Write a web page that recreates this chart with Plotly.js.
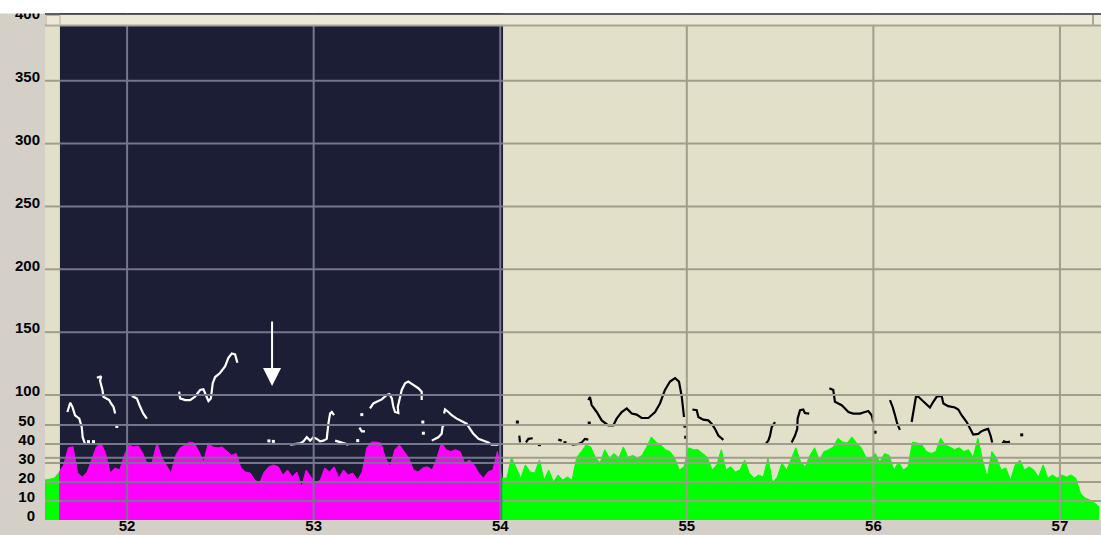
<!DOCTYPE html>
<html>
<head>
<meta charset="utf-8">
<script src="https://cdn.plot.ly/plotly-3.0.1.min.js"></script>
<style>
  html, body { margin: 0; padding: 0; background: #d4d0c8; overflow: hidden; }
  #chart { width: 1101px; height: 535px; }
</style>
</head>
<body>
<div id="chart"></div>
<script>
// ---- time axis ----
const timeRange = [51.56, 57.22];
const timeTicks = [52, 53, 54, 55, 56, 57];
const timeTickText = ['52', '53', '54', '55', '56', '57'];

// selected (highlighted) stretch of the recording, seconds
const selectionStart = 51.64;
const selectionEnd = 54.015;

// ---- intensity envelope (dB), one frame every 25 ms ----
const frameStart = 51.56;
const frameStep = 0.025;
const intensityDb = [
  21, 21.5, 22, 25, 29, 38, 38.6, 24.7, 22.6, 25,
  31.6, 38.4, 40.5, 35, 24.7, 27.4, 26.3, 34, 39.5, 38.4,
  39, 35, 29, 30.5, 40.5, 33, 29, 24.7, 34, 38,
  39.5, 41, 40.5, 36, 30.5, 40.5, 38.4, 38, 38.4, 36,
  34, 35, 27.4, 25.3, 24.7, 21, 19.5, 25.3, 28, 29,
  28, 23.7, 26.3, 22.6, 25.3, 17.4, 26.3, 22.6, 19.5, 21,
  27.4, 25.3, 28, 22, 26.3, 23.7, 24.7, 21, 25.3, 38,
  41, 41, 40.5, 32.6, 28, 37, 39.5, 36, 32.6, 26.3,
  25.3, 27.4, 28, 26.3, 32.6, 40.5, 37, 36, 37, 36,
  30, 31.6, 29, 24.7, 22, 25.3, 26.3, 36, 22, 22,
  33, 27.4, 22, 29, 25.3, 24.7, 31.6, 21, 26.3, 20,
  23.7, 21, 22.6, 21, 33, 36, 39.5, 38.4, 33, 30,
  37, 32.6, 35, 32.6, 38.4, 33, 34, 32.6, 34, 38.4,
  43.7, 41, 39.5, 37, 36, 32.6, 26.3, 28, 38, 37,
  37, 35, 33, 26.3, 29, 37, 26.3, 28, 25.3, 26.3,
  31.6, 24.7, 22, 23.7, 22.6, 32.6, 19.5, 22.6, 30, 26.3,
  32.6, 38, 30.5, 28, 34, 38, 31.6, 36, 37, 38.4,
  43, 41, 40.5, 43.7, 40.5, 38, 33, 32.6, 35, 30.5,
  35, 34, 26.3, 30.5, 26.3, 28, 41, 40.5, 39.5, 36,
  35, 36, 43, 39.5, 38.4, 37, 38, 36, 37, 33,
  43, 31.6, 22.6, 36, 32.6, 26.3, 27.4, 21, 29, 31.6,
  26.3, 28, 26.3, 22.6, 29, 22, 23.7, 22, 23.7, 22.6,
  23.7, 22, 14, 11.6, 10.5, 9, 7
];

// ---- pitch contour (Hz); null separates voiced stretches ----
const pitchTimeSel = [
  51.680, 51.695, 51.707, 51.721, 51.744, 51.757, 51.762, 51.775, null,
  51.838, 51.861, 51.855, 51.868, 51.873, 51.891, 51.904, 51.914, 51.927, 51.936, null,
  52.025, 52.052, 52.070, 52.087, 52.106, null,
  52.279, 52.284, 52.311, 52.338, 52.364, 52.391, 52.409, 52.422, 52.436, 52.449,
  52.459, 52.472, 52.498, 52.525, 52.543, 52.561, 52.579, 52.591, null,
  52.874, 52.900, 52.927, 52.945, 52.963, 52.981, 52.998, 53.017, 53.034, 53.052,
  53.070, 53.079, 53.088, 53.097, 53.109, null,
  53.115, 53.151, 53.186, null,
  53.245, 53.258, 53.275, null,
  53.302, 53.320, 53.338, 53.365, 53.392, 53.406, 53.419, 53.427, 53.436, 53.454,
  53.451, 53.463, 53.472, 53.490, 53.507, 53.534, 53.561, 53.579, 53.579, null,
  53.633, 53.651, 53.668, 53.686, 53.692, 53.695, null,
  53.699, 53.704, 53.722, 53.740, 53.767, 53.794, 53.820, 53.838, 53.856, 53.883,
  53.909, 53.936, 53.954, 53.990
];
const pitchHzSel = [
  86.5, 93.8, 90.6, 83.9, 81.2, 74.4, 66.4, 61.0, null,
  113.7, 114.8, 111.3, 104, 98.6, 97.3, 96, 93.3, 90.6, 85.2, null,
  99.2, 97.3, 90.6, 85.2, 81.2, null,
  102.7, 97.3, 96, 96, 98.6, 104, 104.6, 100, 95.2, 97.3,
  109.4, 114.3, 117.5, 122.8, 129.6, 133, 132.3, 125.6, null,
  60.5, 61, 61.5, 63.1, 66.4, 63.7, 66.4, 65.1, 63.1, 63.7,
  65.1, 77.2, 85.2, 86.5, 83.9, null,
  63.7, 62.3, 60.5, null,
  74, 71, 71, null,
  89.3, 93.3, 94.6, 96.5, 100, 100.8, 97.3, 90.6, 86.5, 85.7,
  90.6, 98.6, 104, 109.4, 110.7, 108, 105.4, 102.7, 96, null,
  63.7, 65.1, 66.4, 69.1, 75.8, 74.4, null,
  85.2, 88.5, 86.5, 83.9, 81.2, 79.3, 77.2, 73.1, 69.1, 65.1,
  63.7, 62.3, 60.5, 60.5
];
const pitchTimeRest = [
  54.102, 54.106, null,
  54.138, 54.151, 54.174, null,
  54.311, 54.330, null,
  54.383, 54.419, 54.437, 54.454, 54.472, null,
  54.472, 54.481, 54.490, 54.517, 54.544, 54.579, 54.606, 54.624, 54.651, 54.678,
  54.705, 54.731, 54.758, 54.794, 54.830, 54.856, 54.883, 54.910, 54.937, 54.958,
  54.973, 54.985, null,
  55.030, 55.053, 55.062, 55.088, 55.115, 55.133, 55.151, 55.169, 55.196, null,
  55.419, 55.437, 55.446, 55.455, 55.473, null,
  55.562, 55.580, 55.592, 55.594, 55.607, 55.624, 55.633, 55.656, null,
  55.764, 55.785, 55.794, 55.812, 55.830, 55.848, 55.866, 55.892, 55.928, 55.955,
  55.973, 55.991, 55.999, null,
  56.089, 56.103, 56.116, 56.128, 56.142, null,
  56.205, 56.218, 56.228, 56.241, 56.259, 56.282, 56.303, 56.321, 56.339, 56.366,
  56.375, 56.401, 56.437, 56.455, 56.473, 56.500, 56.518, 56.535, 56.562, 56.580,
  56.598, 56.615, 56.628, 56.637, null,
  56.688, 56.700, 56.715, 56.732
];
const pitchHzRest = [
  67.7, 62.3, null,
  62.3, 65.1, 65.6, null,
  64.5, 63.7, null,
  60.5, 61, 62.3, 65.1, 64.5, null,
  96, 98.4, 92, 86.5, 79.8, 75.8, 75.8, 81.2, 86.5, 89.3,
  85.2, 84.4, 81.7, 81.7, 86.5, 93.3, 104, 110.7, 113.5, 110.7,
  98.6, 82.5, null,
  88.5, 87.9, 82.5, 80.4, 79.8, 77.2, 73.1, 67.7, 64.3, null,
  60.5, 63.7, 67.7, 74.4, 78.5, null,
  62.3, 67.7, 73.1, 81.2, 87.9, 88.5, 85.7, 85.2, null,
  105.4, 104, 94.6, 93.3, 91.9, 89.3, 86.5, 85.2, 85.2, 86.5,
  87.3, 83.9, 78.5, null,
  96, 90.6, 83.9, 77.2, 72.3, null,
  78.5, 90.6, 98.6, 98.6, 96, 93.3, 90.1, 94.6, 98.6, 99.2,
  93.3, 91.1, 90.1, 88.5, 83.9, 78.5, 73.1, 68.5, 69.1, 71.2,
  72.3, 73.1, 67.7, 62.3, null,
  60.5, 63.1, 62.3, 62.9
];
// isolated single pitch frames
const dotTimeSel = [51.793, 51.820, 51.945, 52.760, 52.784, 53.236, 53.258, 53.585, 53.588];
const dotHzSel   = [62.9, 62.9, 75, 63.5, 63.1, 63.7, 84.4, 78.5, 69.6];
const dotTimeRest = [54.092, 54.210, 54.347, 54.477, 54.990, 54.994, 56.009, 56.795];
const dotHzRest   = [78.5, 60.5, 62.1, 77.7, 75.2, 66.4, 70.4, 68.3];

// ---- scale labels ----
const pitchTicks = [50, 100, 150, 200, 250, 300, 350, 400];
const pitchTickText = ['', '100', '150', '200', '250', '300', '350', '400'];
const intensityTicks = [0, 10, 20, 30, 40, 50];
const intensityTickText = ['0', '10', '20', '30', '40', '50'];

// marked instant
const markTime = 52.777;
const markHz = 107.2;

// ---------------------------------------------------------------
const frameTimes = intensityDb.map((_, i) => frameStart + i * frameStep);
function framesWhere(test) {
  const t = [], v = [];
  frameTimes.forEach((ft, i) => { if (test(ft)) { t.push(ft); v.push(intensityDb[i]); } });
  return { t, v };
}
const eps = frameStep / 2;
const before = framesWhere(ft => ft < selectionStart + 0.005);
const inside = framesWhere(ft => ft >= selectionStart - eps && ft <= selectionEnd);
const after = framesWhere(ft => ft >= selectionEnd - eps);

const GREEN = '#00ff00', MAGENTA = '#ff00ff';
function envelope(part, color) {
  return {
    x: part.t, y: part.v, yaxis: 'y2', type: 'scatter', mode: 'lines',
    fill: 'tozeroy', fillcolor: color, line: { color: color, width: 1 },
    hoverinfo: 'skip', showlegend: false
  };
}
const traces = [
  envelope(before, GREEN),
  envelope(inside, MAGENTA),
  envelope(after, GREEN),
  { x: pitchTimeSel, y: pitchHzSel, type: 'scatter', mode: 'lines', connectgaps: false,
    line: { color: '#ffffff', width: 2.2 }, showlegend: false, hoverinfo: 'skip' },
  { x: pitchTimeRest, y: pitchHzRest, type: 'scatter', mode: 'lines', connectgaps: false,
    line: { color: '#000000', width: 2.2 }, showlegend: false, hoverinfo: 'skip' },
  { x: dotTimeSel, y: dotHzSel, type: 'scatter', mode: 'markers',
    marker: { color: '#ffffff', size: 3, symbol: 'square' }, showlegend: false, hoverinfo: 'skip' },
  { x: dotTimeRest, y: dotHzRest, type: 'scatter', mode: 'markers',
    marker: { color: '#000000', size: 3, symbol: 'square' }, showlegend: false, hoverinfo: 'skip' }
];

// grid drawn over the envelopes, tinted per region
const GRID_DARK = '#74768e', GRID_LIGHT = '#a09d8a';
const shapes = [];
// selection background
shapes.push({ type: 'rect', xref: 'x', yref: 'paper', x0: selectionStart, x1: selectionEnd,
  y0: 0, y1: 1, fillcolor: '#1c1e35', line: { width: 0 }, layer: 'below' });

function hGrid(val, yref) {
  const spans = [[timeRange[0], selectionStart, GRID_LIGHT],
                 [selectionStart, selectionEnd, GRID_DARK],
                 [selectionEnd, timeRange[1], GRID_LIGHT]];
  spans.forEach(([a, b, c]) => shapes.push({
    type: 'line', xref: 'x', yref: yref, x0: a, x1: b, y0: val, y1: val,
    line: { color: c, width: 2 }, layer: 'above' }));
}
pitchTicks.forEach(v => hGrid(v, 'y'));
intensityTicks.filter(v => v > 0).forEach(v => hGrid(v, 'y2'));
timeTicks.forEach(v => shapes.push({
  type: 'line', xref: 'x', yref: 'paper', x0: v, x1: v, y0: 0, y1: 1,
  line: { color: (v > selectionStart && v < selectionEnd) ? GRID_DARK : GRID_LIGHT, width: 2 },
  layer: 'above' }));

// window chrome along the top edge (plot spans y 10..520 px, x 45..1101 px)
const W = 1101, H = 535, L = 45, T = 10, B = 15;
const px = x => (x - L) / (W - L);
const py = y => (H - B - y) / (H - B - T);
shapes.push({ type: 'rect', xref: 'paper', yref: 'paper', x0: px(0), x1: px(W), y0: py(13.5), y1: py(0),
  fillcolor: '#ffffff', line: { width: 0 }, layer: 'above' });
shapes.push({ type: 'rect', xref: 'paper', yref: 'paper', x0: px(L), x1: px(W), y0: py(25.5), y1: py(14),
  fillcolor: '#ece9d8', line: { width: 0 }, layer: 'above' });
shapes.push({ type: 'line', xref: 'paper', yref: 'paper', x0: px(L), x1: px(W), y0: py(14), y1: py(14),
  line: { color: '#303030', width: 1.5 }, layer: 'above' });
shapes.push({ type: 'line', xref: 'paper', yref: 'paper', x0: px(L), x1: px(W), y0: py(25.5), y1: py(25.5),
  line: { color: '#a6a392', width: 2 }, layer: 'above' });
shapes.push({ type: 'rect', xref: 'paper', yref: 'paper', x0: px(L + 1), x1: px(60), y0: py(25), y1: py(15.5),
  fillcolor: '#ece9d8', line: { color: '#b5b2a2', width: 1 }, layer: 'above' });
shapes.push({ type: 'line', xref: 'paper', yref: 'paper', x0: px(1093), x1: px(1093), y0: py(25), y1: py(15),
  line: { color: '#aaa796', width: 2 }, layer: 'above' });

const labelFont = { family: 'Liberation Sans, Arial, sans-serif', size: 15, color: '#000000', weight: 'bold' };

const layout = {
  width: W, height: H,
  margin: { l: L, r: 0, t: T, b: B, pad: 0 },
  paper_bgcolor: '#d4d0c8',
  plot_bgcolor: '#e3e0ca',
  showlegend: false,
  hovermode: false,
  xaxis: {
    range: timeRange, tickvals: timeTicks, ticktext: timeTickText,
    showgrid: false, zeroline: false, showline: false, ticks: '',
    tickfont: labelFont, ticklabelstandoff: -5, fixedrange: true
  },
  yaxis: {
    range: [0.56, 406.3], tickvals: pitchTicks, ticktext: pitchTickText,
    showgrid: false, zeroline: false, showline: false, ticks: '',
    tickfont: labelFont, ticklabelshift: -4, ticklabelstandoff: 4, fixedrange: true
  },
  yaxis2: {
    overlaying: 'y', side: 'left', anchor: 'x',
    range: [0, 268.4], tickvals: intensityTicks, ticktext: intensityTickText,
    showgrid: false, zeroline: false, showline: false, ticks: '',
    tickfont: labelFont, ticklabelshift: -4, ticklabelstandoff: 9, fixedrange: true
  },
  shapes: shapes,
  annotations: [{
    x: markTime, y: markHz, xref: 'x', yref: 'y', text: '',
    showarrow: true, arrowhead: 2, arrowsize: 1.8, arrowwidth: 2, arrowcolor: '#ffffff',
    ax: 0, ay: -66, axref: 'pixel', ayref: 'pixel'
  }]
};

Plotly.newPlot('chart', traces, layout, { staticPlot: true, displayModeBar: false });
</script>
</body>
</html>
